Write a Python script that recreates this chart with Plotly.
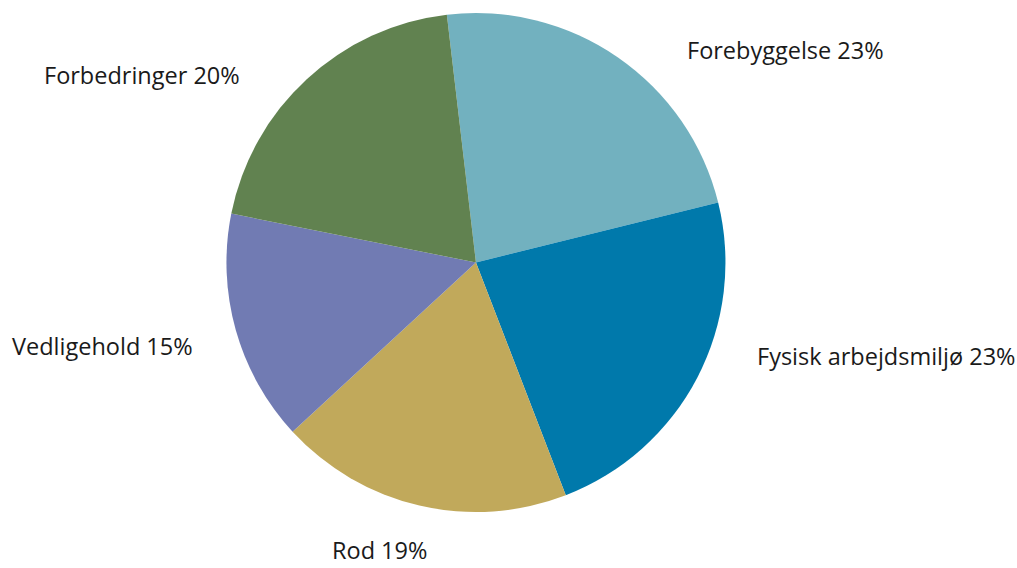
import plotly.graph_objects as go

W, H = 1017, 568

categories = ["Forebyggelse", "Fysisk arbejdsmiljø", "Rod", "Vedligehold", "Forbedringer"]
values = [23, 23, 19, 15, 20]
colors = ["#72B1BF", "#0079AB", "#C1A95B", "#717BB3", "#618250"]

# label anchor (left x, center y) in pixels
label_pos = [(685, 50), (755, 356), (330, 550), (10, 346), (42, 75)]

fig = go.Figure(go.Pie(
    labels=categories,
    values=values,
    marker=dict(colors=colors, line=dict(width=0)),
    sort=False,
    direction="clockwise",
    rotation=-6.7,
    textinfo="none",
    hoverinfo="label+percent",
    domain=dict(x=[0.218, 0.718], y=[1 - 512 / H, 1 - 13 / H]),
    showlegend=False,
))

for (cat, val), (px, py) in zip(zip(categories, values), label_pos):
    fig.add_annotation(
        x=px / W, y=1 - py / H, xref="paper", yref="paper",
        text=f"{cat} {val}%", showarrow=False,
        xanchor="left", yanchor="middle",
        font=dict(family="Open Sans", size=23.5, color="#1a1a1a"),
    )

fig.update_layout(
    width=W, height=H,
    margin=dict(l=0, r=0, t=0, b=0),
    paper_bgcolor="white",
    plot_bgcolor="white",
)

fig.write_html("out.html")
